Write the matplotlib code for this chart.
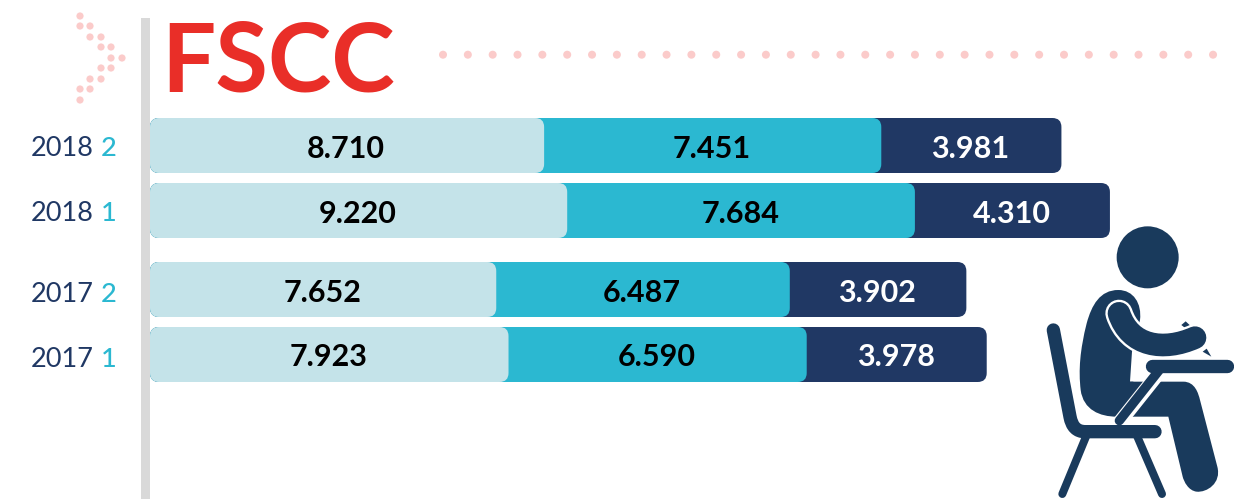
import matplotlib
matplotlib.use('Agg')
import matplotlib.pyplot as plt
from matplotlib.patches import FancyBboxPatch, PathPatch, Circle, Rectangle
from matplotlib.path import Path

# Data
years = ['2018', '2018', '2017', '2017']
terms = ['2', '1', '2', '1']
light_vals = [8710, 9220, 7652, 7923]
mid_vals = [7451, 7684, 6487, 6590]
dark_vals = [3981, 4310, 3902, 3978]

LIGHT = '#C4E3E9'
MID = '#2BB8D1'
DARK = '#203864'
ICON = '#193A5C'
PINK = '#FBCBCA'
RED = '#E92E28'

W, H = 1234, 499
PX_PER_UNIT = 0.04525
BAR_LEFT = 150
row_top = [118, 183, 262, 327]
value_y = [149, 214, 292.5, 357.5]
year_y = [148.5, 213.5, 294.5, 359.5]
BAR_H = 55

plt.rcParams['font.family'] = ['Lato', 'DejaVu Sans']

fig = plt.figure(figsize=(W / 100, H / 100), dpi=100, facecolor='white')

# decoration layer, in picture pixels
deco = fig.add_axes([0, 0, 1, 1])
deco.set_xlim(0, W)
deco.set_ylim(H, 0)
deco.axis('off')

# bars layer, x in data units
ax = fig.add_axes([0, 0, 1, 1], facecolor='none')
ax.set_xlim(-BAR_LEFT / PX_PER_UNIT, (W - BAR_LEFT) / PX_PER_UNIT)
ax.set_ylim(H, 0)
ax.axis('off')


def rbar(x1, top, color, zorder):
    r = 9
    pad = r / PX_PER_UNIT
    box = FancyBboxPatch((pad, top + r), x1 - 2 * pad, BAR_H - 2 * r,
                         boxstyle=f'round,pad={pad},rounding_size={pad}',
                         mutation_aspect=PX_PER_UNIT,
                         fc=color, ec='none', zorder=zorder)
    ax.add_patch(box)


for i in range(len(years)):
    a, b, c = light_vals[i], mid_vals[i], dark_vals[i]
    top = row_top[i]
    rbar(a + b + c, top, DARK, 2)
    rbar(a + b, top, MID, 3)
    rbar(a, top, LIGHT, 4)
    for x, v, col in [(a / 2, a, 'black'), (a + b / 2, b, 'black'), (a + b + c / 2, c, 'white')]:
        ax.text(x - 20, value_y[i], f'{v:,}'.replace(',', '.'), color=col, fontsize=22, fontweight='bold',
                ha='center', va='center', zorder=6)
    deco.text(62.5, year_y[i], years[i], color=DARK, fontsize=19.5, ha='center', va='center')
    deco.text(116.5, year_y[i], terms[i], color=MID, fontsize=19.5, fontweight='medium', ha='right', va='center')

# grey rule
deco.add_patch(Rectangle((141, 18), 9, H - 18, fc='#D9D9D9', ec='none'))

# title
deco.text(161, 91, 'FSCC', color=RED, fontsize=69, fontweight='bold', ha='left', va='baseline')

# dotted row and chevron
for n in range(32):
    deco.add_patch(Circle((443 + n * 24.84, 54.7), 4, fc=PINK, ec='none'))
chevron = [(80, 16), (80, 26), (90, 26), (90, 37), (101, 37), (101, 47), (111, 47), (111, 58), (122, 58),
           (101, 68), (111, 68), (90, 79), (101, 79), (80, 89), (90, 89), (80, 100)]
for p in chevron:
    deco.add_patch(Circle(p, 3.6, fc=PINK, ec='none'))


# student icon, traced in coordinates of a 3x crop at (1020, 210)
def z(p):
    return (1020 + p[0] / 3, 210 + p[1] / 3)


def curve(points, codes, **kw):
    deco.add_patch(PathPatch(Path([z(p) for p in points], codes), **kw))


M, L, C, Q = Path.MOVETO, Path.LINETO, Path.CURVE4, Path.CURVE3


def stroke(points, codes, w, color=ICON, zorder=3, cap='round'):
    curve(points, codes, fc='none', ec=color, lw=w / 3 * 0.72, capstyle=cap, joinstyle='round', zorder=zorder)


deco.add_patch(Circle(z((383, 142)), 31, fc=ICON, ec='none', zorder=3))

# torso
curve([(330, 515), (336, 425), (360, 330), (366, 280), (340, 240), (295, 240),
       (240, 240), (215, 285), (200, 340), (180, 420), (175, 480), (182, 540),
       (190, 600), (240, 620), (290, 620), (340, 620), (340, 515), (330, 515)],
      [M, L, L, C, C, C, C, C, C, C, C, C, C, C, C, L, L, L], fc=ICON, ec='none', zorder=3)
# thigh and shin
curve([(320, 515), (490, 515), (525, 515), (535, 550), (540, 570), (592, 770), (605, 820), (560, 848), (530, 845),
       (505, 842), (492, 815), (488, 800), (445, 620), (290, 620), (320, 515)],
      [M, L, C, C, C, L, C, C, C, C, C, C, L, L, L], fc=ICON, ec='none', zorder=3)

# desk support
stroke([(425, 478), (292, 645)], [M, L], 42, 'white', 4, cap='butt')
stroke([(418, 480), (298, 632)], [M, L], 28, ICON, 5)

# arm
arm = [(297, 310), (330, 410), (430, 425), (525, 383)]
stroke(arm, [M, C, C, C], 82, 'white', 6)
stroke(arm, [M, C, C, C], 68, ICON, 7)

# pencil
curve([(484, 345), (497, 334), (512, 348), (498, 356)], [M, L, L, L], fc=ICON, ec='none', zorder=3)
curve([(548, 425), (560, 416), (574, 440)], [M, L, L], fc=ICON, ec='none', zorder=3)

# desk
stroke([(396, 467), (620, 467)], [M, L], 40, ICON, 8)

# chair
stroke([(100, 360), (150, 620), (158, 665), (195, 665), (405, 665)], [M, L, Q, Q, L], 40, ICON, 8)
stroke([(198, 680), (127, 852)], [M, L], 24, ICON, 8)
stroke([(352, 680), (426, 852)], [M, L], 24, ICON, 8)

fig.savefig('out.png', dpi=100, facecolor='white')
